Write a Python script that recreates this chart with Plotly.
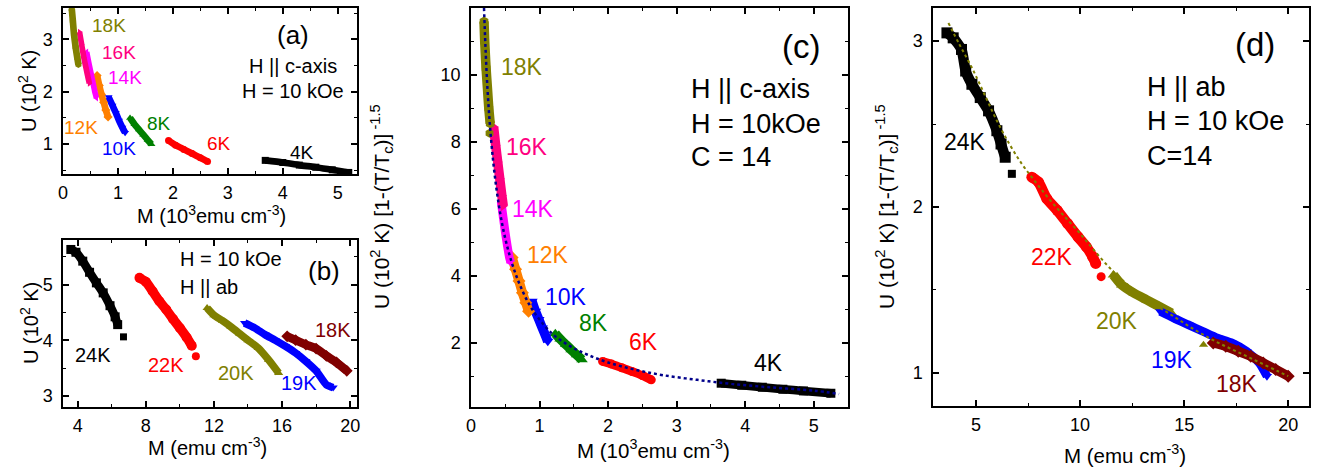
import plotly.graph_objects as go

FONT = "Arial, Liberation Sans, sans-serif"
W, H = 1318, 470

OLIVE = "#808000"; PINK = "#FF0080"; MAGENTA = "#FF00FF"; ORANGE = "#FF8000"
BLUE = "#0000FF"; GREEN = "#008000"; RED = "#FF0000"; BLACK = "#000000"; WINE = "#800000"
NAVY = "#00008B"

# ---------------- Panel (a): H || c-axis, U vs M (10^3 emu cm^-3) ----------------
a18_M = [0.16, 0.18, 0.20, 0.23, 0.26, 0.28]
a18_U = [3.58, 3.35, 3.10, 2.85, 2.65, 2.52]
a16_M = [0.30, 0.34, 0.38, 0.42, 0.46, 0.48]
a16_U = [3.14, 2.90, 2.65, 2.45, 2.25, 2.16]
a14_M = [0.43, 0.47, 0.51, 0.55, 0.58, 0.61]
a14_U = [2.76, 2.55, 2.35, 2.15, 2.00, 1.88]
a12_M = [0.62, 0.66, 0.70, 0.74, 0.78, 0.82]
a12_U = [2.31, 2.12, 1.95, 1.80, 1.65, 1.52]
a10_M = [0.83, 0.90, 0.96, 1.02, 1.08, 1.13]
a10_U = [1.90, 1.74, 1.60, 1.45, 1.32, 1.22]
a8_M = [1.22, 1.30, 1.38, 1.46, 1.54, 1.61]
a8_U = [1.50, 1.38, 1.28, 1.18, 1.08, 1.00]
a6_M = [1.92, 2.05, 2.20, 2.35, 2.50, 2.63]
a6_U = [1.07, 0.98, 0.90, 0.82, 0.74, 0.67]
a4_M = [3.68, 4.00, 4.30, 4.60, 4.90, 5.20]
a4_U = [0.69, 0.65, 0.60, 0.56, 0.51, 0.46]

# ---------------- Panel (b): H || ab, U vs M (emu cm^-3) ----------------
b24_M = [3.6, 3.9, 4.3, 4.7, 5.1, 5.5, 5.9, 6.2, 6.35]
b24_U = [5.63, 5.58, 5.42, 5.22, 5.03, 4.85, 4.62, 4.42, 4.28]
b24_out = [6.69, 4.06]
b22_M = [7.63, 8.0, 8.4, 8.8, 9.2, 9.6, 10.0, 10.4, 10.7]
b22_U = [5.12, 5.05, 4.88, 4.70, 4.55, 4.38, 4.22, 4.05, 3.90]
b22_out = [10.94, 3.71]
b20_M = [11.6, 12.0, 12.5, 13.0, 13.5, 14.0, 14.6, 15.2, 15.8]
b20_U = [4.58, 4.45, 4.35, 4.24, 4.12, 4.00, 3.86, 3.65, 3.41]
b19_M = [13.8, 14.4, 15.0, 15.6, 16.2, 16.8, 17.4, 18.0, 18.6, 19.0]
b19_U = [4.31, 4.22, 4.10, 4.00, 3.89, 3.77, 3.62, 3.45, 3.20, 3.15]
b18_M = [16.3, 16.8, 17.4, 18.0, 18.6, 19.2, 19.8]
b18_U = [4.07, 4.00, 3.92, 3.85, 3.72, 3.60, 3.45]

# ---------------- Panel (c): scaled U vs M (10^3 emu cm^-3) ----------------
c18_M = [0.19, 0.20, 0.21, 0.22, 0.24, 0.26, 0.28]
c18_U = [11.6, 11.0, 10.6, 10.2, 9.6, 9.0, 8.55]
c18_out = [0.27, 8.26]
c16_M = [0.33, 0.36, 0.39, 0.42, 0.45, 0.47]
c16_U = [8.45, 7.90, 7.40, 6.90, 6.40, 6.10]
c14_M = [0.44, 0.47, 0.50, 0.53, 0.56, 0.58]
c14_U = [6.20, 5.75, 5.30, 4.90, 4.55, 4.40]
c12_M = [0.60, 0.65, 0.70, 0.75, 0.80, 0.84]
c12_U = [4.55, 4.20, 3.85, 3.50, 3.20, 2.95]
c10_M = [0.89, 0.94, 0.99, 1.04, 1.09, 1.12]
c10_U = [3.25, 2.95, 2.70, 2.45, 2.20, 2.05]
c8_M = [1.23, 1.30, 1.38, 1.46, 1.54, 1.62]
c8_U = [2.28, 2.12, 1.96, 1.80, 1.65, 1.50]
c6_M = [1.92, 2.05, 2.20, 2.35, 2.50, 2.63]
c6_U = [1.45, 1.37, 1.26, 1.15, 1.03, 0.90]
c4_M = [3.65, 3.95, 4.25, 4.55, 4.85, 5.25]
c4_U = [0.80, 0.74, 0.68, 0.62, 0.57, 0.50]
cfit_M = [0.19, 0.21, 0.24, 0.28, 0.33, 0.40, 0.48, 0.58, 0.70, 0.85, 1.00, 1.20,
          1.45, 1.70, 2.00, 2.40, 2.80, 3.30, 3.80, 4.40, 5.00, 5.37]
cfit_U = [12.0, 10.9, 9.6, 8.4, 7.3, 6.2, 5.3, 4.5, 3.8, 3.15, 2.7, 2.25,
          1.9, 1.65, 1.42, 1.2, 1.04, 0.9, 0.78, 0.67, 0.58, 0.48]

# ---------------- Panel (d): scaled U vs M (emu cm^-3) ----------------
d24_M = [3.6, 3.9, 4.3, 4.5, 4.8, 5.2, 5.6, 6.0, 6.2, 6.4]
d24_U = [3.05, 3.02, 2.95, 2.82, 2.74, 2.66, 2.58, 2.46, 2.38, 2.30]
d24_out = [6.72, 2.20]
d22_M = [7.68, 8.0, 8.4, 8.9, 9.4, 9.9, 10.3, 10.6, 10.75]
d22_U = [2.18, 2.15, 2.05, 1.98, 1.90, 1.82, 1.76, 1.70, 1.66]
d22_out = [11.01, 1.58]
d20_M = [11.6, 12.0, 12.6, 13.2, 13.8, 14.4]
d20_U = [1.59, 1.53, 1.48, 1.44, 1.40, 1.36]
d20_out = [15.93, 1.17]
d19_M = [13.85, 14.5, 15.2, 15.9, 16.6, 17.3, 18.0, 18.6, 18.98]
d19_U = [1.37, 1.33, 1.29, 1.25, 1.21, 1.18, 1.13, 1.06, 0.98]
d18_M = [16.4, 17.0, 17.6, 18.2, 18.8, 19.4, 20.0]
d18_U = [1.18, 1.16, 1.13, 1.10, 1.06, 1.02, 0.98]
dfit_M = [3.67, 4.2, 4.8, 5.4, 6.0, 6.6, 7.2, 7.8, 8.5, 9.2, 10.0, 10.8, 11.6,
          12.5, 13.5, 14.5, 15.5, 16.5, 17.5, 18.5, 19.5, 20.0]
dfit_U = [3.11, 2.98, 2.84, 2.68, 2.52, 2.38, 2.26, 2.16, 2.05, 1.95, 1.84, 1.72,
          1.61, 1.51, 1.42, 1.34, 1.26, 1.19, 1.13, 1.07, 1.01, 0.98]

fig = go.Figure()


def band(M, U, color, symbol, size, ax, name):
    fig.add_trace(go.Scatter(
        x=M, y=U, mode="lines+markers", name=name, showlegend=False,
        xaxis="x" + ax, yaxis="y" + ax,
        line=dict(color=color, width=size * 0.95, shape="spline", smoothing=0.6),
        marker=dict(color=color, symbol=symbol, size=size, line=dict(width=0))))


def point(P, color, symbol, size, ax, name):
    fig.add_trace(go.Scatter(
        x=[P[0]], y=[P[1]], mode="markers", name=name, showlegend=False,
        xaxis="x" + ax, yaxis="y" + ax,
        marker=dict(color=color, symbol=symbol, size=size, line=dict(width=0))))


# panel (a)
band(a4_M, a4_U, BLACK, "square", 7, "", "4K")
band(a6_M, a6_U, RED, "circle", 7, "", "6K")
band(a8_M, a8_U, GREEN, "triangle-up", 7, "", "8K")
band(a10_M, a10_U, BLUE, "triangle-down", 7, "", "10K")
band(a12_M, a12_U, ORANGE, "diamond", 7, "", "12K")
band(a14_M, a14_U, MAGENTA, "triangle-left", 6, "", "14K")
band(a16_M, a16_U, PINK, "triangle-right", 6, "", "16K")
band(a18_M, a18_U, OLIVE, "hexagon", 7, "", "18K")

# panel (b)
band(b24_M, b24_U, BLACK, "square", 9, "2", "24K")
point(b24_out, BLACK, "square", 7, "2", "24K")
band(b22_M, b22_U, RED, "circle", 10, "2", "22K")
point(b22_out, RED, "circle", 8, "2", "22K")
band(b20_M, b20_U, OLIVE, "triangle-up", 8, "2", "20K")
band(b19_M, b19_U, BLUE, "triangle-down", 8, "2", "19K")
band(b18_M, b18_U, WINE, "diamond", 9, "2", "18K")

# panel (c)
band(c4_M, c4_U, BLACK, "square", 9, "3", "4K")
band(c6_M, c6_U, RED, "circle", 9, "3", "6K")
band(c8_M, c8_U, GREEN, "triangle-up", 10, "3", "8K")
band(c10_M, c10_U, BLUE, "triangle-down", 10, "3", "10K")
band(c12_M, c12_U, ORANGE, "diamond", 10, "3", "12K")
band(c14_M, c14_U, MAGENTA, "triangle-left", 9, "3", "14K")
band(c16_M, c16_U, PINK, "triangle-right", 10, "3", "16K")
band(c18_M, c18_U, OLIVE, "hexagon", 10, "3", "18K")
point(c18_out, OLIVE, "hexagon", 9, "3", "18K")
fig.add_trace(go.Scatter(x=cfit_M, y=cfit_U, mode="lines", showlegend=False,
                         xaxis="x3", yaxis="y3", name="fit",
                         line=dict(color=NAVY, width=2.5, dash="dot", shape="spline")))

# panel (d)
band(d24_M, d24_U, BLACK, "square", 11, "4", "24K")
point(d24_out, BLACK, "square", 8, "4", "24K")
band(d22_M, d22_U, RED, "circle", 11, "4", "22K")
point(d22_out, RED, "circle", 9, "4", "22K")
band(d20_M, d20_U, OLIVE, "triangle-up", 10, "4", "20K")
point(d20_out, OLIVE, "triangle-up", 8, "4", "20K")
band(d19_M, d19_U, BLUE, "triangle-down", 9, "4", "19K")
band(d18_M, d18_U, WINE, "diamond", 10, "4", "18K")
fig.add_trace(go.Scatter(x=dfit_M, y=dfit_U, mode="lines", showlegend=False,
                         xaxis="x4", yaxis="y4", name="fit",
                         line=dict(color=OLIVE, width=2, dash="dot", shape="spline")))


def axis(dom, rng, dtick, minor, anchor, standoff):
    return dict(domain=dom, range=rng, dtick=dtick, tick0=0, anchor=anchor,
                automargin=False,
                showline=True, linecolor="black", linewidth=1.5, mirror="ticks",
                ticks="inside", ticklen=6, tickwidth=1.5, tickcolor="black",
                showgrid=False, zeroline=False, ticklabelstandoff=standoff,
                tickfont=dict(size=18, family=FONT, color="black"),
                minor=dict(ticks="inside", ticklen=3.5, tickwidth=1.2,
                           tickcolor="black", dtick=minor, tick0=0))


def px(x):
    return x / W


def py(y):
    return 1 - y / H


xa = [px(63), px(357)]
xc = [px(471), px(848)]
xd = [px(933), px(1309)]
XS = 2
YS = 5

fig.update_layout(
    width=W, height=H, margin=dict(l=0, r=0, t=0, b=0, autoexpand=False),
    paper_bgcolor="white", plot_bgcolor="white",
    font=dict(family=FONT, color="black"),
    xaxis=axis(xa, [0, 5.35], 1, 0.5, "y", XS),
    yaxis=axis([py(174), py(8)], [0.43, 3.6], 1, 0.5, "x", YS),
    xaxis2=axis(xa, [3.14, 20.4], 4, 2, "y2", XS),
    yaxis2=axis([py(407), py(240)], [2.8, 5.8], 1, 0.5, "x2", YS),
    xaxis3=axis(xc, [0, 5.5], 1, 0.5, "y3", XS),
    yaxis3=axis([py(407), py(8)], [0.09, 12.0], 2, 1, "x3", YS),
    xaxis4=axis(xd, [2.93, 21.0], 5, 2.5, "y4", XS),
    yaxis4=axis([py(406), py(8)], [0.8, 3.2], 1, 0.5, "x4", YS),
)

ann = []


def txt(x, y, s, size, color="black", ref="", xanchor="center"):
    ann.append(dict(x=x, y=y, text=s, xref="x" + ref, yref="y" + ref,
                    showarrow=False, xanchor=xanchor, yanchor="middle",
                    font=dict(size=size, color=color, family=FONT)))


def ptxt(x, y, s, size, angle=0):
    ann.append(dict(x=px(x), y=py(y), text=s, xref="paper", yref="paper",
                    showarrow=False, xanchor="center", yanchor="middle",
                    textangle=angle, font=dict(size=size, color="black", family=FONT)))


# panel (a) labels
txt(0.84, 3.27, "18K", 19, OLIVE)
txt(1.02, 2.75, "16K", 19, PINK)
txt(1.13, 2.28, "14K", 19, MAGENTA)
txt(0.33, 1.32, "12K", 19, ORANGE)
txt(1.02, 0.92, "10K", 19, BLUE)
txt(1.75, 1.40, "8K", 19, GREEN)
txt(2.84, 1.02, "6K", 19, RED)
txt(4.35, 0.85, "4K", 19, BLACK)
txt(4.18, 3.08, "(a)", 26)
txt(4.18, 2.50, "H || c-axis", 20)
txt(4.18, 2.01, "H = 10 kOe", 20)

# panel (b) labels
txt(4.88, 3.74, "24K", 20, BLACK, "2")
txt(9.2, 3.56, "22K", 20, RED, "2")
txt(13.3, 3.41, "20K", 20, OLIVE, "2")
txt(17.0, 3.23, "19K", 20, BLUE, "2")
txt(18.97, 4.19, "18K", 20, WINE, "2")
txt(18.44, 5.25, "(b)", 26, ref="2")
txt(9.9, 5.45, "H = 10 kOe", 20, ref="2", xanchor="left")
txt(9.9, 4.96, "H || ab", 20, ref="2", xanchor="left")

# panel (c) labels
txt(0.74, 10.25, "18K", 23, OLIVE, "3")
txt(0.82, 7.84, "16K", 23, PINK, "3")
txt(0.91, 6.00, "14K", 23, MAGENTA, "3")
txt(1.13, 4.63, "12K", 23, ORANGE, "3")
txt(1.38, 3.38, "10K", 23, BLUE, "3")
txt(1.78, 2.60, "8K", 23, GREEN, "3")
txt(2.51, 2.04, "6K", 23, RED, "3")
txt(4.34, 1.40, "4K", 23, BLACK, "3")
txt(4.81, 10.84, "(c)", 33, ref="3")
txt(3.18, 9.58, "H || c-axis", 27, ref="3", xanchor="left")
txt(3.18, 8.54, "H = 10kOe", 27, ref="3", xanchor="left")
txt(3.18, 7.54, "C = 14", 27, ref="3", xanchor="left")

# panel (d) labels
txt(4.47, 2.39, "24K", 23, BLACK, "4")
txt(8.65, 1.70, "22K", 23, RED, "4")
txt(11.78, 1.31, "20K", 23, OLIVE, "4")
txt(14.42, 1.08, "19K", 23, BLUE, "4")
txt(17.55, 0.93, "18K", 23, WINE, "4")
txt(18.41, 2.98, "(d)", 33, ref="4")
txt(13.1, 2.725, "H || ab", 27, ref="4", xanchor="left")
txt(13.1, 2.517, "H = 10 kOe", 27, ref="4", xanchor="left")
txt(13.1, 2.305, "C=14", 27, ref="4", xanchor="left")

# axis titles
ptxt(212, 214, "M (10<sup>3</sup>emu cm<sup>-3</sup>)", 20)
ptxt(27, 91, "U (10<sup>2</sup> K)", 20, -90)
ptxt(207, 446, "M (emu cm<sup>-3</sup>)", 20)
ptxt(29, 323, "U (10<sup>2</sup> K)", 20, -90)
ptxt(653, 449, "M (10<sup>3</sup>emu cm<sup>-3</sup>)", 20.5)
ptxt(381, 207, "U (10<sup>2</sup> K) [1-(T/T<sub>c</sub>)]<sup> -1.5</sup>", 21, -90)
ptxt(1125, 454, "M (emu cm<sup>-3</sup>)", 20.5)
ptxt(886, 207, "U (10<sup>2</sup> K) [1-(T/T<sub>c</sub>)]<sup> -1.5</sup>", 21, -90)

fig.update_layout(annotations=ann)
fig.write_html("out.html",
               config={"displayModeBar": False},
               post_script="document.body.style.margin='0';"
                           "document.body.style.overflow='hidden';")
